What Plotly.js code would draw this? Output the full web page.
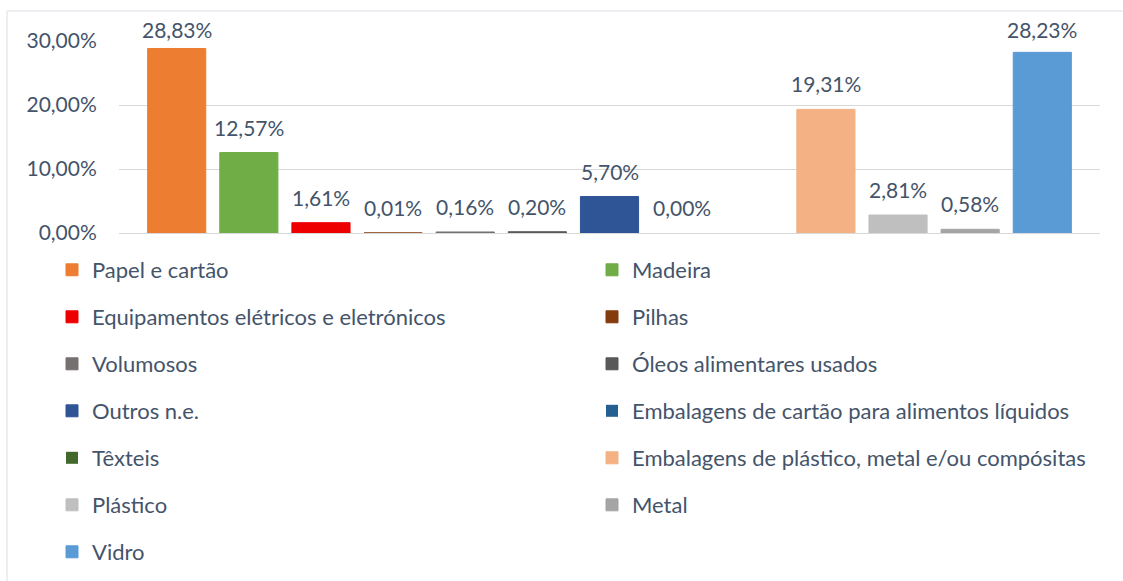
<!DOCTYPE html>
<html>
<head>
<meta charset="utf-8">
<script src="https://cdn.plot.ly/plotly-3.0.1.min.js"></script>
<style>
  html, body { margin: 0; padding: 0; background: #ffffff; }
  #chart { width: 1123px; height: 581px; }
</style>
</head>
<body>
<div id="chart"></div>
<script>
const categories = [
  'Papel e cartão',
  'Madeira',
  'Equipamentos elétricos e eletrónicos',
  'Pilhas',
  'Volumosos',
  'Óleos alimentares usados',
  'Outros n.e.',
  'Embalagens de cartão para alimentos líquidos',
  'Têxteis',
  'Embalagens de plástico, metal e/ou compósitas',
  'Plástico',
  'Metal',
  'Vidro'
];
const values = [28.83, 12.57, 1.61, 0.01, 0.16, 0.20, 5.70, 0.00, null, 19.31, 2.81, 0.58, 28.23];
const colors = ['#ED7D31', '#70AD47', '#EE0000', '#843C0C', '#767171', '#595959', '#2F5597',
                '#255E91', '#43682B', '#F4B183', '#BFBFBF', '#A5A5A5', '#5B9BD5'];
const yTicks = [0, 10, 20, 30];
const yTickText = yTicks.map(v => v.toFixed(2).replace('.', ',') + '%');

const FONT = 'Lato, "Open Sans", sans-serif';
const TXT = '#44546A';
const FS = 21;
const LFS = 22;
const LABEL_CEIL = 27.8; // labels of the tallest bars stay inside the chart box, as in the source

// plot area in pixels (for converting layout positions into paper fractions)
const PL = 119, PR = 1100, PT = 41, PB = 233;
const px2x = p => (p - PL) / (PR - PL);
const px2y = p => (PB - p) / (PB - PT);

const traces = categories.map((c, i) => ({
  type: 'bar',
  x: [c],
  y: [values[i]],
  name: c,
  marker: { color: colors[i], line: { color: colors[i], width: values[i] > 0 ? 1 : 0 } },
  legend: i % 2 === 0 ? 'legend' : 'legend2',
  legendgroup: 'g' + i,
  hoverinfo: 'name+y'
}));

const annotations = [];
categories.forEach((c, i) => {
  if (values[i] === null) return;
  annotations.push({
    x: c, y: Math.min(values[i], LABEL_CEIL), xref: 'x', yref: 'y',
    text: values[i].toFixed(2).replace('.', ',') + '%',
    showarrow: false, yanchor: 'bottom', yshift: 11,
    font: { family: FONT, size: FS, color: TXT }
  });
});

const legendCommon = {
  xref: 'paper', yref: 'paper',
  xanchor: 'left', yanchor: 'top',
  orientation: 'v',
  traceorder: 'grouped',
  tracegroupgap: 15.4,
  maxheight: 1,
  bgcolor: 'rgba(0,0,0,0)',
  font: { family: FONT, size: LFS, color: TXT }
};

const layout = {
  width: 1123, height: 581,
  paper_bgcolor: '#ffffff', plot_bgcolor: '#ffffff',
  margin: { l: PL, r: 1123 - PR, t: PT, b: 581 - PB, autoexpand: false },
  separators: ',.',
  barmode: 'overlay',
  bargap: 0.194,
  showlegend: true,
  font: { family: FONT, size: FS, color: TXT },
  xaxis: {
    type: 'category',
    categoryorder: 'array', categoryarray: categories,
    range: [-0.8, 12.8],
    showticklabels: false, showgrid: false, zeroline: false,
    showline: false, ticks: '', fixedrange: true
  },
  yaxis: {
    range: [0, 30],
    tickmode: 'array', tickvals: yTicks, ticktext: yTickText,
    showgrid: true, gridcolor: '#D9D9D9', gridwidth: 1,
    zeroline: true, zerolinecolor: '#D9D9D9', zerolinewidth: 1,
    showline: false,
    ticks: 'outside', ticklen: 17, tickcolor: 'rgba(0,0,0,0)',
    tickfont: { family: FONT, size: FS, color: TXT },
    automargin: false,
    fixedrange: true
  },
  legend: Object.assign({}, legendCommon, { x: px2x(52), y: px2y(249) }),
  legend2: Object.assign({}, legendCommon, { x: px2x(592), y: px2y(249) }),
  annotations: annotations,
  shapes: [{
    type: 'rect', xref: 'paper', yref: 'paper',
    x0: px2x(7), x1: px2x(1130),
    y0: px2y(600), y1: px2y(11),
    line: { color: '#D9DDE3', width: 1 }, fillcolor: 'rgba(0,0,0,0)', layer: 'below'
  }]
};

Plotly.newPlot('chart', traces, layout, { displayModeBar: false, staticPlot: true });
</script>
</body>
</html>
